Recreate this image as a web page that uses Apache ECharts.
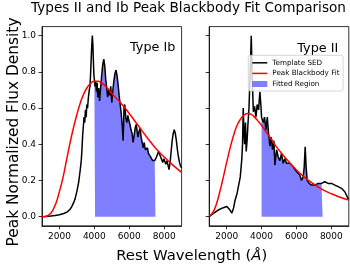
<!DOCTYPE html>
<html>
<head>
<meta charset="utf-8">
<script src="https://cdn.jsdelivr.net/npm/echarts@6/dist/echarts.min.js"></script>
<style>
html,body{margin:0;padding:0;background:#fff;}
#chart{width:350px;height:265px;}
</style>
</head>
<body>
<div id="chart"></div>
<script>
// ---- Type Ib template SED ----
const ibWave = [1000,1250,1500,1750,2000,2250,2450,2600,2700,2800,2900,3000,3060,3100,3180,3250,3290,3330,3370,3410,3450,3490,3530,3570,3610,3660,3710,3750,3790,3830,3860,3885,3915,3945,3975,
  4000,4040,4080,4120,4160,4200,4250,4300,4350,4420,4480,4540,4600,4650,4700,4760,4820,4880,4940,5000,5060,5120,5180,5240,5300,5360,5420,5480,5540,5600,5650,5700,5740,5800,5860,5920,5980,6040,6100,6160,6220,6280,6340,6400,6450,6500,6560,6620,6680,6740,6800,6860,6920,6980,7040,7100,7160,7220,7280,7340,7400,7460,7500,
  7560,7620,7680,7740,7800,7860,7920,7980,8040,8100,8160,8220,8280,8340,8400,8460,8520,8580,8640,8700,8760,8820,8880,8940,9000];
const ibFlux = [0.0,0.002,0.004,0.007,0.011,0.018,0.027,0.04,0.055,0.075,0.10,0.14,0.13,0.19,0.25,0.31,0.37,0.45,0.50,0.55,0.52,0.59,0.55,0.62,0.60,0.66,0.70,0.72,0.80,0.90,0.96,1.0,0.95,0.86,0.78,
  0.76,0.72,0.75,0.69,0.74,0.66,0.71,0.64,0.70,0.78,0.84,0.87,0.83,0.76,0.72,0.66,0.70,0.67,0.72,0.63,0.70,0.75,0.79,0.81,0.78,0.73,0.67,0.62,0.57,0.50,0.42,0.60,0.62,0.55,0.52,0.56,0.53,0.51,0.48,0.46,0.41,0.45,0.49,0.51,0.50,0.44,0.47,0.49,0.44,0.41,0.38,0.41,0.37,0.36,0.38,0.35,0.34,0.33,0.32,0.31,0.30,0.31,0.30,
  0.33,0.34,0.36,0.35,0.33,0.32,0.30,0.32,0.31,0.29,0.31,0.30,0.26,0.30,0.36,0.42,0.46,0.48,0.46,0.42,0.37,0.33,0.30,0.28,0.27];
// ---- Type Ib peak blackbody fit ----
const ibFitWave = [1000,1200,1400,1600,1800,2000,2200,2400,2600,2800,3000,3200,3400,3600,3800,4000,4200,4400,4600,4800,5000,5500,6000,6500,7000,7500,8000,8500,9000];
const ibFitFlux = [0.0,0.002,0.01,0.033,0.075,0.14,0.215,0.31,0.405,0.49,0.565,0.63,0.68,0.715,0.738,0.748,0.748,0.74,0.725,0.705,0.68,0.63,0.57,0.505,0.44,0.38,0.33,0.285,0.245];

// ---- Type II template SED ----
const iiWave = [1000,1240,1520,1810,2010,2190,2300,2400,2480,2550,2600,2660,2720,2780,2830,2870,2910,2950,2990,3030,3080,3120,3170,3220,3280,3350,3410,3465,3530,3600,3680,3750,3830,3905,3960,
  4000,4100,4170,4250,4330,4400,4480,4555,4630,4705,4765,4860,4955,5050,5145,5240,5335,5430,5620,5810,6000,6195,6290,6385,6445,6500,6555,6615,6730,6860,7050,7245,7435,7500,
  7625,7815,8010,8200,8390,8580,8770,8960,9000];
const iiFlux = [0.0,0.018,0.037,0.05,0.057,0.037,0.02,0.05,0.09,0.08,0.13,0.12,0.19,0.22,0.21,0.32,0.40,0.60,0.47,0.40,0.52,0.36,0.42,0.51,0.60,0.80,1.0,0.77,0.58,0.61,0.55,0.62,0.59,0.69,0.62,
  0.55,0.52,0.55,0.48,0.55,0.46,0.39,0.44,0.37,0.42,0.285,0.37,0.33,0.31,0.35,0.295,0.32,0.295,0.295,0.276,0.25,0.23,0.20,0.22,0.276,0.387,0.276,0.20,0.184,0.175,0.175,0.184,0.184,0.186,
  0.193,0.184,0.184,0.175,0.166,0.157,0.138,0.10,0.095];
// ---- Type II peak blackbody fit ----
const iiFitWave = [1000,1200,1400,1600,1800,2000,2200,2400,2600,2800,3000,3200,3400,3600,3800,4000,4250,4500,4750,5000,5500,6000,6500,7000,7500,8000,8500,9000];
const iiFitFlux = [0.004,0.022,0.066,0.135,0.215,0.30,0.38,0.45,0.505,0.54,0.562,0.57,0.565,0.55,0.528,0.505,0.47,0.437,0.40,0.368,0.31,0.258,0.215,0.18,0.15,0.127,0.108,0.092];

// fitted region bounds
const fitRange = [4000, 7500];
// tick labels
const xTicks = [2000, 4000, 6000, 8000];
const yTicks = [0.0, 0.2, 0.4, 0.6, 0.8, 1.0];
const seriesNames = ['Template SED', 'Peak Blackbody Fit', 'Fitted Region'];
const panelLabels = ['Type Ib', 'Type II'];

const pairs = (w, f) => w.map((x, i) => [x, f[i]]);
const inRange = (w, f) => pairs(w, f).filter(p => p[0] >= fitRange[0] && p[0] <= fitRange[1]);

const FONT = 'DejaVu Sans';
const chart = echarts.init(document.getElementById('chart'), null, {renderer: 'canvas'});

function xAxis(idx) {
  return {
    type: 'value', gridIndex: idx, min: 1000, max: 9000,
    axisLine: {show: true, onZero: false, lineStyle: {color: '#000', width: 0.8}},
    axisTick: {show: true, length: 3.5, lineStyle: {color: '#000', width: 0.8}, customValues: xTicks},
    axisLabel: {show: true, customValues: xTicks, fontSize: 9, fontFamily: FONT, color: '#000', margin: 6,
      formatter: v => String(Math.round(v))},
    splitLine: {show: false}
  };
}
function yAxis(idx, showLabels) {
  return {
    type: 'value', gridIndex: idx, min: -0.05, max: 1.05,
    axisLine: {show: true, onZero: false, lineStyle: {color: '#000', width: 0.8}},
    axisTick: {show: true, length: 3.5, lineStyle: {color: '#000', width: 0.8}, customValues: yTicks},
    axisLabel: {show: showLabels, customValues: yTicks, fontSize: 9, fontFamily: FONT, color: '#000', margin: 6,
      formatter: v => Number(v).toFixed(1)},
    splitLine: {show: false}
  };
}
const fillColor = 'rgba(0,0,255,0.5)';
function panelSeries(idx, w, f, fw, ff) {
  return [
    {name: seriesNames[2], type: 'line', xAxisIndex: idx, yAxisIndex: idx, data: inRange(w, f),
      symbol: 'none', lineStyle: {width: 0, color: fillColor}, itemStyle: {color: fillColor},
      areaStyle: {color: fillColor, opacity: 1}, z: 1, silent: true},
    {name: seriesNames[0], type: 'line', xAxisIndex: idx, yAxisIndex: idx, data: pairs(w, f),
      symbol: 'none', lineStyle: {width: 1.5, color: '#000'}, itemStyle: {color: '#000'}, z: 2, silent: true},
    {name: seriesNames[1], type: 'line', xAxisIndex: idx, yAxisIndex: idx, data: pairs(fw, ff), smooth: true,
      symbol: 'none', lineStyle: {width: 1.5, color: '#ff0000'}, itemStyle: {color: '#ff0000'}, z: 3, silent: true}
  ];
}
const lineIcon = 'path://M0,0 L20,0 L20,2 L0,2 Z';

chart.setOption({
  animation: false,
  backgroundColor: '#fff',
  grid: [
    {left: 42, top: 26.6, width: 139.6, height: 199.2, show: true, borderColor: '#000', borderWidth: 0.8},
    {left: 209.2, top: 26.6, width: 139.6, height: 199.2, show: true, borderColor: '#000', borderWidth: 0.8}
  ],
  xAxis: [xAxis(0), xAxis(1)],
  yAxis: [yAxis(0, true), yAxis(1, false)],
  legend: {
    orient: 'vertical', left: 248.3, top: 55.3,
    padding: [3.5, 3.5, 3, 4],
    itemWidth: 15, itemHeight: 6, itemGap: 2.6,
    symbolKeepAspect: true,
    backgroundColor: 'rgba(255,255,255,0.8)', borderColor: '#cccccc', borderWidth: 0.8, borderRadius: 2,
    selectedMode: false,
    textStyle: {fontSize: 7.2, fontFamily: FONT, color: '#000', lineHeight: 8},
    data: [
      {name: seriesNames[0], icon: lineIcon, itemStyle: {color: '#000'}},
      {name: seriesNames[1], icon: lineIcon, itemStyle: {color: '#ff0000'}},
      {name: seriesNames[2], icon: 'rect', itemStyle: {color: fillColor}}
    ]
  },
  series: [].concat(
    panelSeries(0, ibWave, ibFlux, ibFitWave, ibFitFlux),
    panelSeries(1, iiWave, iiFlux, iiFitWave, iiFitFlux)
  ),
  graphic: [
    {type: 'text', x: 188.5, y: 8.5, silent: true,
      style: {text: 'Types II and Ib Peak Blackbody Fit Comparison', fontSize: 13.6, fontFamily: FONT, fill: '#000', align: 'center', verticalAlign: 'middle'}},
    {type: 'text', x: 191.7, y: 256.5, silent: true,
      style: {text: 'Rest Wavelength ({i|Å})', fontSize: 14.8, fontFamily: FONT, fill: '#000', align: 'center', verticalAlign: 'middle',
        rich: {i: {fontStyle: 'italic', fontSize: 14.8, fontFamily: FONT}}}},
    {type: 'text', x: 13.5, y: 132, rotation: Math.PI / 2, silent: true,
      style: {text: 'Peak Normalized Flux Density', fontSize: 15.4, fontFamily: FONT, fill: '#000', align: 'center', verticalAlign: 'middle'}},
    {type: 'text', x: 130, y: 47.7, silent: true,
      style: {text: panelLabels[0], fontSize: 12.8, fontFamily: FONT, fill: '#000', align: 'left', verticalAlign: 'middle'}},
    {type: 'text', x: 297.3, y: 48.3, silent: true,
      style: {text: panelLabels[1], fontSize: 12.8, fontFamily: FONT, fill: '#000', align: 'left', verticalAlign: 'middle'}}
  ]
});
</script>
</body>
</html>
